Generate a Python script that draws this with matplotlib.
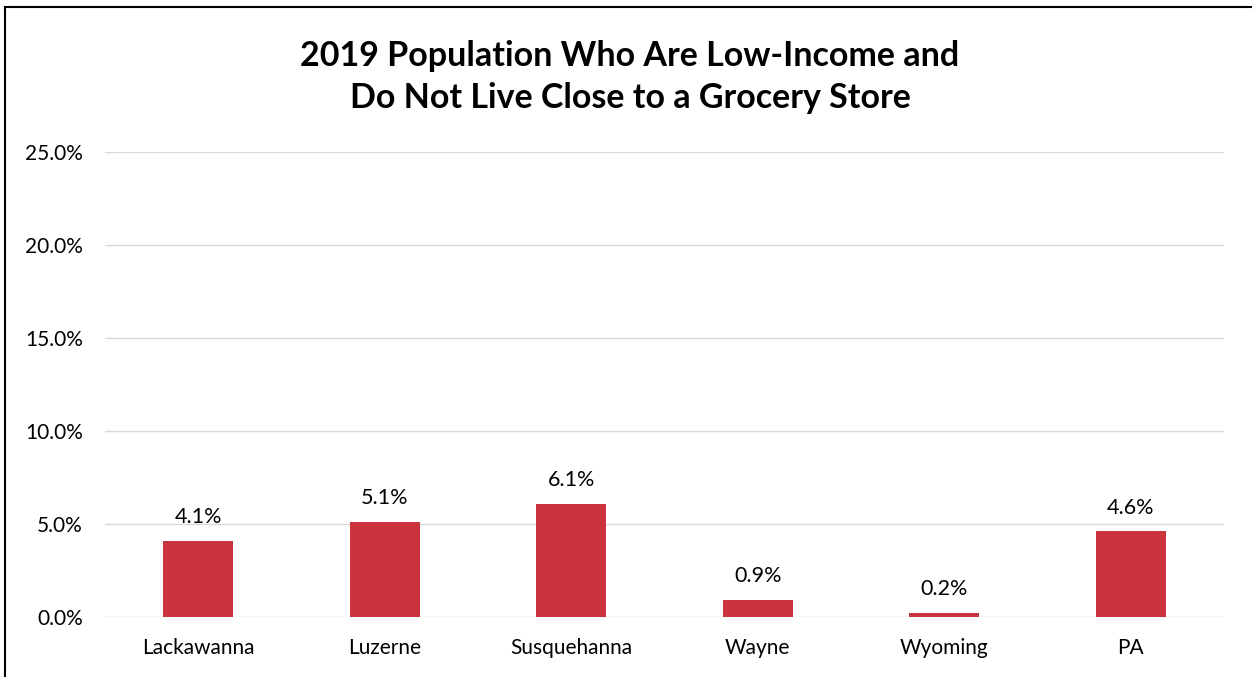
import matplotlib
matplotlib.use("Agg")
import matplotlib.pyplot as plt
from matplotlib.lines import Line2D

categories = ["Lackawanna", "Luzerne", "Susquehanna", "Wayne", "Wyoming", "PA"]
values = [4.1, 5.1, 6.1, 0.9, 0.2, 4.6]
yticks = [0, 5, 10, 15, 20, 25]
title = "2019 Population Who Are Low-Income and\nDo Not Live Close to a Grocery Store"

plt.rcParams['font.family'] = ['Lato', 'DejaVu Sans']

fig = plt.figure(figsize=(12.52, 6.77), dpi=100)
W, H = 1252, 677
ax = fig.add_axes([105 / W, 1 - 617 / H, (1224 - 105) / W, (617 - 152) / H])

x = list(range(len(categories)))
bars = ax.bar(x, values, width=0.375, color="#CC343D", zorder=3)
ax.set_xlim(-0.5, len(categories) - 0.5)
ax.set_ylim(0, 25)
ax.set_yticks(yticks)
ax.set_yticklabels([f"{v:.1f}%" for v in yticks])
ax.set_xticks(x)
ax.set_xticklabels(categories)
ax.grid(axis="y", color="#D9D9D9", linewidth=1, zorder=0)
for s in ax.spines.values():
    s.set_visible(False)
ax.tick_params(axis="both", length=0, labelsize=15, colors="black")
ax.tick_params(axis="x", pad=15)
ax.tick_params(axis="y", pad=16)

for b, v in zip(bars, values):
    ax.annotate(f"{v:.1f}%", (b.get_x() + b.get_width() / 2, v),
                xytext=(0, 10), textcoords="offset points",
                ha="center", va="bottom", fontsize=15.5)

fig.text(630 / W, 1 - 77 / H, title, ha="center", va="center",
         fontsize=24.5, fontweight="bold", linespacing=1.4)

fig.add_artist(Line2D([5 / W, 5 / W], [0, 1 - 7 / H], transform=fig.transFigure, color="black", linewidth=1.5))
fig.add_artist(Line2D([5 / W, 1], [1 - 7 / H, 1 - 7 / H], transform=fig.transFigure, color="black", linewidth=1.5))

fig.savefig("out.png", dpi=100)
